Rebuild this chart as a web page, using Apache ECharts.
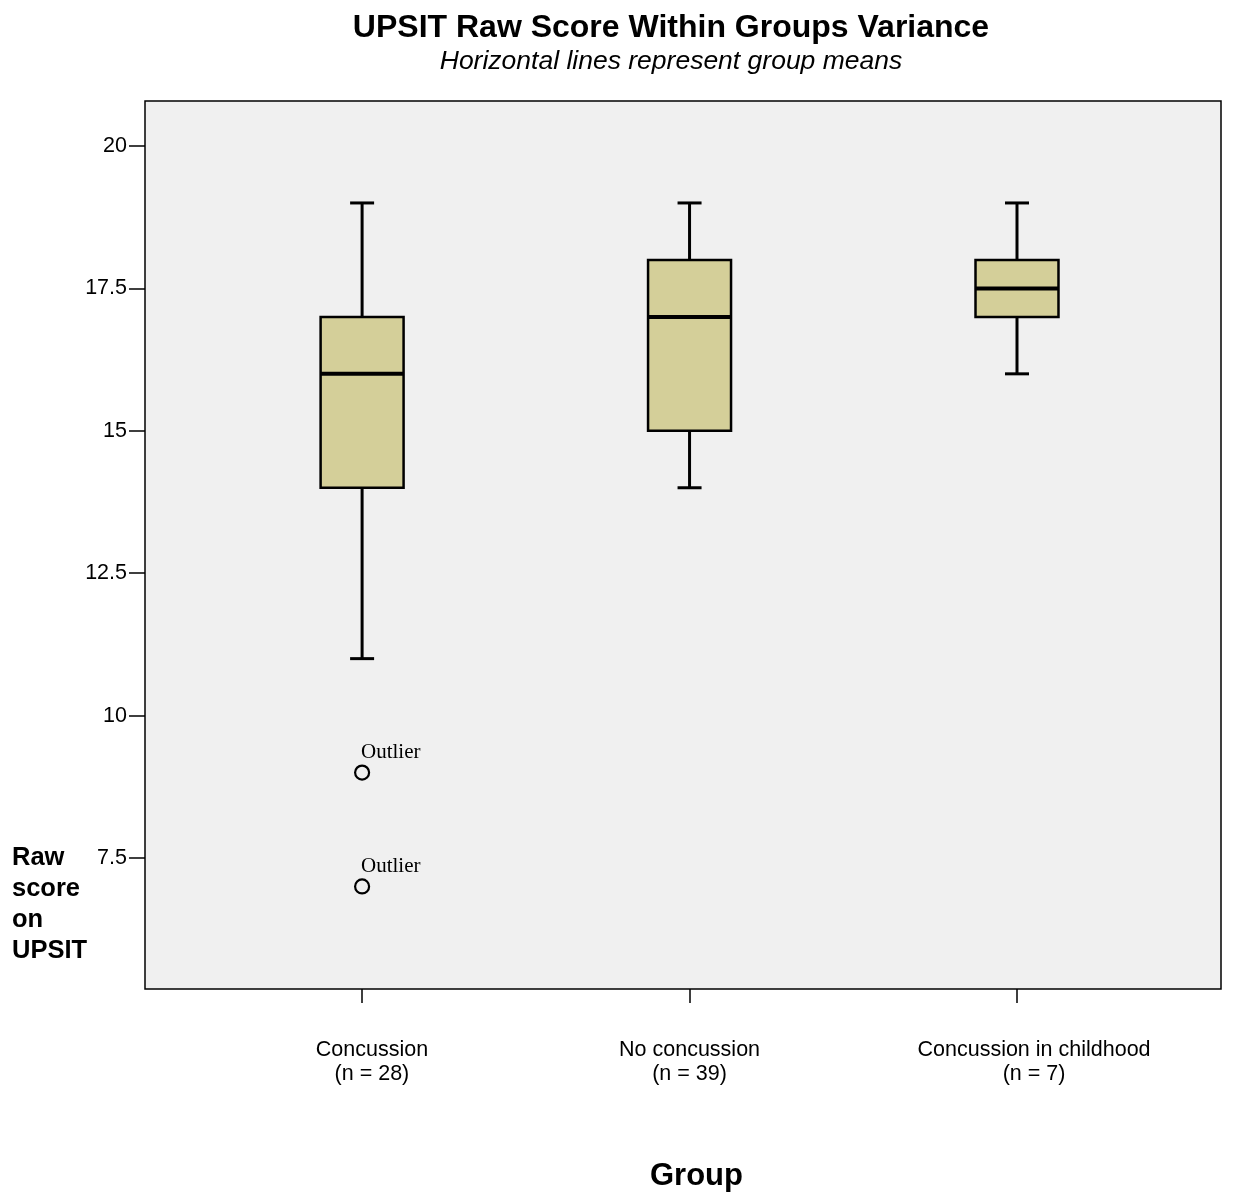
<!DOCTYPE html>
<html><head><meta charset="utf-8">
<script src="https://cdn.jsdelivr.net/npm/echarts@6/dist/echarts.min.js"></script>
<style>html,body{margin:0;padding:0;background:#fff}#c{width:1244px;height:1195px}</style>
</head><body><div id="c"></div>
<script>
const groups = ['Concussion', 'No concussion', 'Concussion in childhood'];
const groupN = ['(n = 28)', '(n = 39)', '(n = 7)'];
const groupX = [1, 2, 3];
const labelX = [1.03, 2, 3.052];
// [min, Q1, median, Q3, max]
const boxStats = [
  [11, 14, 16, 17, 19],
  [14, 15, 17, 18, 19],
  [16, 17, 17.5, 18, 19]
];
const outliers = [[1, 9], [1, 7]];
const yTicks = [7.5, 10, 12.5, 15, 17.5, 20];

const boxData = boxStats.map((s, i) => [groupX[i]].concat(s));
const FONT = '"Liberation Sans", Arial, sans-serif';

const chart = echarts.init(document.getElementById('c'));
chart.setOption({
  animation: false,
  backgroundColor: '#fff',
  title: {
    text: 'UPSIT Raw Score Within Groups Variance',
    subtext: 'Horizontal lines represent group means',
    left: 666, top: 7, textAlign: 'center', itemGap: 4,
    textStyle: {fontFamily: FONT, fontWeight: 'bold', fontSize: 32, color: '#000'},
    subtextStyle: {fontFamily: FONT, fontStyle: 'italic', fontSize: 26.5, color: '#000'}
  },
  grid: {
    left: 145, top: 101, right: 23, bottom: 206,
    show: true, backgroundColor: '#F0F0F0', borderColor: '#000', borderWidth: 1.5
  },
  xAxis: {
    type: 'value', min: 0.337, max: 3.623,
    axisLine: {show: false},
    splitLine: {show: false},
    axisTick: {show: true, length: 14, customValues: groupX, lineStyle: {color: '#000', width: 1.5}},
    axisLabel: {
      customValues: labelX, margin: 49,
      fontFamily: FONT, fontSize: 21.5, color: '#000', lineHeight: 24,
      formatter: v => {
        let i = 0, d = 1e9;
        labelX.forEach((x, k) => { if (Math.abs(x - v) < d) { d = Math.abs(x - v); i = k; } });
        return groups[i] + '\n' + groupN[i];
      }
    }
  },
  yAxis: {
    type: 'value', min: 5.2, max: 20.79,
    axisLine: {show: false},
    splitLine: {show: false},
    axisTick: {show: true, length: 16, customValues: yTicks, lineStyle: {color: '#000', width: 1.5}},
    axisLabel: {customValues: yTicks, margin: 18, fontFamily: FONT, fontSize: 21.5, color: '#000'}
  },
  graphic: [
    {type: 'text', left: 12, top: 842, style: {text: 'Raw\nscore\non\nUPSIT', font: 'bold 25.5px ' + FONT, lineHeight: 31, fill: '#000'}},
    {type: 'text', left: 650, top: 1161, style: {text: 'Group', font: 'bold 31px ' + FONT, fill: '#000'}}
  ],
  series: [
    {
      type: 'custom',
      data: boxData,
      renderItem: function (params, api) {
        const x = api.value(0);
        const pMin = api.coord([x, api.value(1)]);
        const pQ1 = api.coord([x, api.value(2)]);
        const pMed = api.coord([x, api.value(3)]);
        const pQ3 = api.coord([x, api.value(4)]);
        const pMax = api.coord([x, api.value(5)]);
        const hw = api.size([0.2534, 0])[0] / 2;
        const cw = api.size([0.0733, 0])[0] / 2;
        const cx = pMin[0];
        const ls = {stroke: '#000', lineWidth: 3};
        return {
          type: 'group',
          children: [
            {type: 'line', shape: {x1: cx, y1: pMin[1], x2: cx, y2: pQ1[1]}, style: ls},
            {type: 'line', shape: {x1: cx, y1: pQ3[1], x2: cx, y2: pMax[1]}, style: ls},
            {type: 'line', shape: {x1: cx - cw, y1: pMin[1], x2: cx + cw, y2: pMin[1]}, style: ls},
            {type: 'line', shape: {x1: cx - cw, y1: pMax[1], x2: cx + cw, y2: pMax[1]}, style: ls},
            {type: 'rect', shape: {x: cx - hw, y: pQ3[1], width: hw * 2, height: pQ1[1] - pQ3[1]},
              style: {fill: '#D4CF99', stroke: '#000', lineWidth: 2.5}},
            {type: 'line', shape: {x1: cx - hw, y1: pMed[1], x2: cx + hw, y2: pMed[1]}, style: {stroke: '#000', lineWidth: 4}}
          ]
        };
      }
    },
    {
      type: 'scatter',
      data: outliers,
      symbol: 'circle', symbolSize: 14,
      itemStyle: {color: 'rgba(0,0,0,0)', borderColor: '#000', borderWidth: 2.2, opacity: 1},
      label: {
        show: true, formatter: 'Outlier', position: [7, -22],
        fontFamily: '"Liberation Serif", "Times New Roman", serif', fontSize: 21, color: '#000'
      }
    }
  ]
});
</script></body></html>
